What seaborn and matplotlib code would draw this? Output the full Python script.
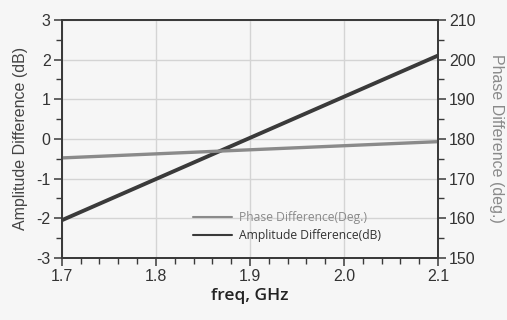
import matplotlib
matplotlib.use("Agg")
import matplotlib.pyplot as plt
import seaborn as sns
import numpy as np
import pandas as pd
from matplotlib.ticker import MultipleLocator
from matplotlib.lines import Line2D

freq = [1.7, 2.1]
amplitude_db = [-2.05, 2.1]
phase_deg = [175.2, 179.3]

sns.set_theme(style="white")
plt.rcParams['font.family'] = ['Liberation Sans', 'DejaVu Sans']
plt.rcParams['axes.unicode_minus'] = False

fig = plt.figure(figsize=(5.07, 3.2), dpi=100, facecolor="#f6f6f6")
ax = fig.add_axes([0.122, 0.194, 0.742, 0.744])
ax.set_facecolor("#f6f6f6")
ax2 = ax.twinx()

df = pd.DataFrame({"freq": freq, "amp": amplitude_db, "phase": phase_deg})
sns.lineplot(data=df, x="freq", y="amp", ax=ax, color="#3a3a3a", lw=2.8)
sns.lineplot(data=df, x="freq", y="phase", ax=ax2, color="#8a8a8a", lw=2.4)

ax.set_xlim(1.7, 2.1)
ax.set_ylim(-3, 3)
ax2.set_ylim(150, 210)
ax.set_xticks([1.7, 1.8, 1.9, 2.0, 2.1])
ax.set_xticklabels(["1.7", "1.8", "1.9", "2.0", "2.1"])
ax.set_yticks([-3, -2, -1, 0, 1, 2, 3])
ax2.set_yticks([150, 160, 170, 180, 190, 200, 210])
ax.xaxis.set_minor_locator(MultipleLocator(0.02))
ax.yaxis.set_minor_locator(MultipleLocator(0.5))
ax2.yaxis.set_minor_locator(MultipleLocator(5))

ax.grid(True, which="major", color="#d4d4d4", lw=1.0)
ax.set_axisbelow(True)

for a in (ax, ax2):
    for s in a.spines.values():
        s.set_color("#3a3a3a")
        s.set_linewidth(1.3)

tc = "#333333"
ax.tick_params(axis="both", which="major", direction="out", length=6, width=1.1, color="#3a3a3a",
               labelsize=11.5, labelcolor=tc, pad=2, left=True, bottom=True)
ax.tick_params(axis="both", which="minor", direction="out", length=4, width=1.0, color="#3a3a3a",
               left=True, bottom=True)
ax2.tick_params(axis="y", which="major", direction="out", length=6, width=1.1, color="#3a3a3a",
                labelsize=11.5, labelcolor=tc, pad=2, right=True)
ax2.tick_params(axis="y", which="minor", direction="out", length=4, width=1.0, color="#3a3a3a", right=True)

ax.set_xlabel("freq, GHz", fontsize=12.5, color="#222222", family=["Open Sans", "DejaVu Sans"],
              fontweight="semibold", labelpad=3)
ax.set_ylabel("Amplitude Difference (dB)", fontsize=11.5, color="#444444", labelpad=6)
ax2.set_ylabel("Phase Difference (deg.)", fontsize=11.5, color="#8a8a8a", rotation=270, labelpad=20)

handles = [Line2D([], [], color="#8a8a8a", lw=1.5), Line2D([], [], color="#3a3a3a", lw=1.5)]
leg = ax.legend(handles, ["Phase Difference(Deg.)", "Amplitude Difference(dB)"],
                loc="lower left", bbox_to_anchor=(0.32, 0.02), frameon=False,
                handlelength=3.2, handletextpad=0.6, labelspacing=0.45,
                prop={"family": ["Open Sans", "DejaVu Sans"], "size": 8.7})
leg.get_texts()[0].set_color("#8a8a8a")
leg.get_texts()[1].set_color("#333333")

fig.savefig("out.png", dpi=100, facecolor=fig.get_facecolor())
